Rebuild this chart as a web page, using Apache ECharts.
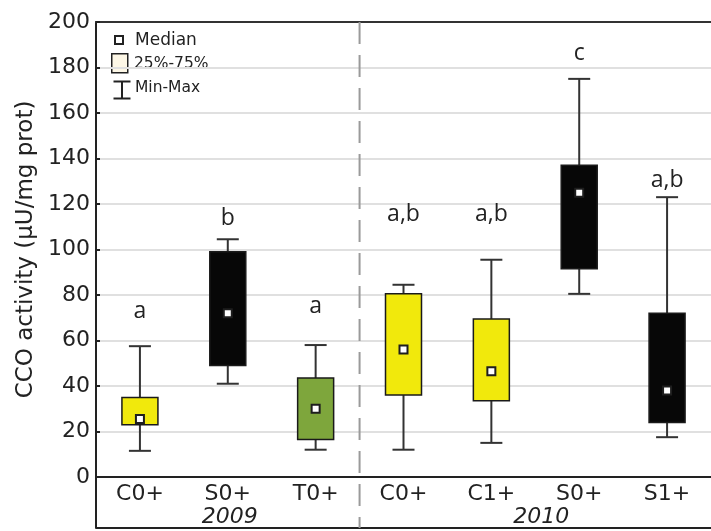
<!DOCTYPE html>
<html><head><meta charset="utf-8">
<script src="https://cdn.jsdelivr.net/npm/echarts@6/dist/echarts.min.js"></script>
<style>html,body{margin:0;padding:0;background:#fff}#c{width:711px;height:531px}</style>
</head><body><div id="c"></div>
<script>
// ---- data ----
const categories = ['C0+', 'S0+', 'T0+', 'C0+', 'C1+', 'S0+', 'S1+'];
const minVals    = [11.5, 41,   12,   12,   15,   80.5, 17.5];
const q1Vals     = [23,   49,   16.5, 36,   33.5, 91.5, 24];
const medianVals = [25.5, 72,   30,   56,   46.5, 125,  38];
const q3Vals     = [35,   99,   43.5, 80.5, 69.5, 137,  72];
const maxVals    = [57.5, 104.5,58,   84.5, 95.5, 175,  123];
const groupLetters = ['a', 'b', 'a', 'a,b', 'a,b', 'c', 'a,b'];
const letterY      = [72.7, 113.8, 74.9, 115.2, 115.2, 186, 130.5];
const years = ['2009', '2010'];
const yearRanges = [[0, 2], [3, 6]];
const yTicks = { min: 0, max: 200, interval: 20 };

// ---- styles ----
const treatment = ['C', 'S', 'T', 'C', 'C', 'S', 'S'];
const fillByTreatment = { C: '#f1e90c', S: '#070707', T: '#7ea63c' };
const FONT = 'DejaVu Sans';
const INK = '#222';

const boxData = categories.map((c, i) => [i, minVals[i], q1Vals[i], medianVals[i], q3Vals[i], maxVals[i]]);
const letterData = categories.map((c, i) => [i, letterY[i], groupLetters[i]]);

const chart = echarts.init(document.getElementById('c'), null, { renderer: 'canvas' });

chart.setOption({
  animation: false,
  backgroundColor: '#fff',
  grid: { left: 96, top: 22, right: -10, bottom: 54, containLabel: false },
  xAxis: [
    {
      type: 'category', data: categories, position: 'bottom',
      axisLine: { lineStyle: { color: INK, width: 2 } },
      axisTick: { inside: true, length: 4, alignWithLabel: true, lineStyle: { color: INK, width: 2 } },
      axisLabel: { fontFamily: FONT, fontSize: 22, color: INK, margin: 6, lineHeight: 22 },
      splitLine: { show: false }
    },
    {
      type: 'category', data: categories, position: 'top',
      axisLine: { lineStyle: { color: '#333', width: 2 } },
      axisTick: { inside: true, length: 4, alignWithLabel: true, lineStyle: { color: '#333', width: 2 } },
      axisLabel: { show: false }, splitLine: { show: false }
    },
    {
      type: 'category', data: categories, position: 'bottom', offset: 51,
      axisLine: { lineStyle: { color: INK, width: 2 } },
      axisTick: { show: false }, axisLabel: { show: false }, splitLine: { show: false }
    }
  ],
  yAxis: {
    type: 'value', min: yTicks.min, max: yTicks.max, interval: yTicks.interval,
    name: 'CCO activity (µU/mg prot)', nameLocation: 'middle', nameGap: 58,
    nameTextStyle: { fontFamily: FONT, fontSize: 23, color: INK },
    axisLine: { show: true, lineStyle: { color: INK, width: 2 } },
    axisTick: { show: true, inside: true, length: 4, lineStyle: { color: INK, width: 2 } },
    axisLabel: { fontFamily: FONT, fontSize: 22, color: INK, margin: 6 },
    splitLine: { show: true, lineStyle: { color: '#e0e0e0', width: 2 } }
  },
  series: [
    {
      type: 'custom', name: 'frame', xAxisIndex: 0, data: [[0]], silent: true, z: 1,
      renderItem(params, api) {
        const cs = params.coordSys;
        const bottom = cs.y + cs.height;
        const children = [];
        children.push({ type: 'line', shape: { x1: cs.x, y1: bottom, x2: cs.x, y2: bottom + 51 },
          style: { stroke: INK, lineWidth: 2 } });
        const xa = api.coord([2, 0])[0], xb = api.coord([3, 0])[0];
        const xs = (xa + xb) / 2;
        children.push({ type: 'line', shape: { x1: xs, y1: cs.y, x2: xs, y2: bottom + 51 },
          style: { stroke: '#9a9a9a', lineWidth: 2, lineDash: [22, 11] } });
        years.forEach((yr, k) => {
          const x1 = api.coord([yearRanges[k][0], 0])[0];
          const x2 = api.coord([yearRanges[k][1], 0])[0];
          children.push({ type: 'text', x: (x1 + x2) / 2 + (k === 1 ? 6 : 2), y: bottom + 40,
            style: { text: yr, fontFamily: FONT, fontSize: 22, fontStyle: 'italic', fill: INK,
              align: 'center', verticalAlign: 'middle' } });
        });
        return { type: 'group', children };
      }
    },
    {
      type: 'custom', name: 'boxes', data: boxData, z: 3,
      renderItem(params, api) {
        const i = api.value(0);
        const x = api.coord([i, 0])[0];
        const yMin = api.coord([i, api.value(1)])[1];
        const yQ1 = api.coord([i, api.value(2)])[1];
        const yMed = api.coord([i, api.value(3)])[1];
        const yQ3 = api.coord([i, api.value(4)])[1];
        const yMax = api.coord([i, api.value(5)])[1];
        const bw = 36, cw = 22, ms = 8;
        const wStyle = { stroke: '#333', lineWidth: 2 };
        return { type: 'group', children: [
          { type: 'line', shape: { x1: x, y1: yMax, x2: x, y2: yQ3 }, style: wStyle },
          { type: 'line', shape: { x1: x, y1: yQ1, x2: x, y2: yMin }, style: wStyle },
          { type: 'line', shape: { x1: x - cw / 2, y1: yMax, x2: x + cw / 2, y2: yMax }, style: wStyle },
          { type: 'line', shape: { x1: x - cw / 2, y1: yMin, x2: x + cw / 2, y2: yMin }, style: wStyle },
          { type: 'rect', shape: { x: x - bw / 2, y: yQ3, width: bw, height: yQ1 - yQ3 },
            style: { fill: fillByTreatment[treatment[i]], stroke: '#1a1a1a', lineWidth: 1.5 } },
          { type: 'rect', shape: { x: x - ms / 2, y: yMed - ms / 2, width: ms, height: ms },
            style: { fill: '#fff', stroke: '#1e1e1e', lineWidth: 2 } }
        ] };
      }
    },
    {
      type: 'custom', name: 'letters', data: letterData, z: 4,
      renderItem(params, api) {
        const p = api.coord([api.value(0), api.value(1)]);
        return { type: 'text', x: p[0], y: p[1],
          style: { text: groupLetters[params.dataIndex], fontFamily: 'Open Sans', fontSize: 23, fill: INK,
            align: 'center', verticalAlign: 'middle' } };
      }
    }
  ],
  graphic: [
    { type: 'rect', left: 114, top: 35, shape: { width: 8, height: 8 },
      style: { fill: '#fff', stroke: '#222', lineWidth: 2 } },
    { type: 'text', left: 135, top: 32, style: { text: 'Median', fontFamily: FONT, fontSize: 17, fill: INK } },
    { type: 'rect', left: 111, top: 53, shape: { width: 16, height: 19 },
      style: { fill: '#fdf7e6', stroke: '#222', lineWidth: 1.5 } },
    { type: 'text', left: 134, top: 56, style: { text: '25%-75%', fontFamily: FONT, fontSize: 15.5, fill: INK } },
    { type: 'group', left: 111, top: 79, children: [
      { type: 'line', shape: { x1: 0, y1: 1, x2: 17, y2: 1 }, style: { stroke: '#222', lineWidth: 2 } },
      { type: 'line', shape: { x1: 8.5, y1: 1, x2: 8.5, y2: 18 }, style: { stroke: '#222', lineWidth: 2 } },
      { type: 'line', shape: { x1: 0, y1: 18, x2: 17, y2: 18 }, style: { stroke: '#222', lineWidth: 2 } }
    ] },
    { type: 'text', left: 135, top: 80, style: { text: 'Min-Max', fontFamily: FONT, fontSize: 15.5, fill: INK } }
  ]
});
</script></body></html>
